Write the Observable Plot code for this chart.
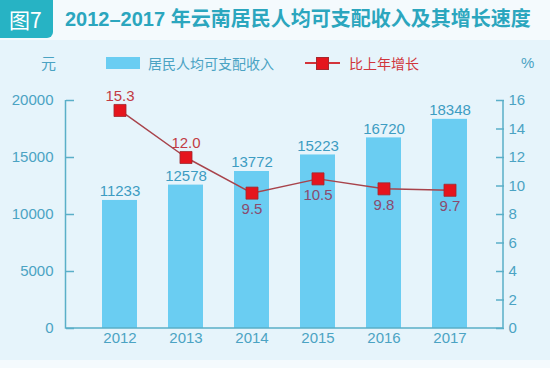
<!DOCTYPE html>
<html><head><meta charset="utf-8">
<script src="https://cdn.jsdelivr.net/npm/d3@7"></script>
<script src="https://cdn.jsdelivr.net/npm/@observablehq/plot@0.6"></script>
<style>
body{margin:0;width:550px;height:368px;background:#F4FAFD;font-family:"Liberation Sans","Noto Sans CJK SC",sans-serif;overflow:hidden;position:relative}
#header{position:relative;height:40px}
#tag{position:absolute;left:0;top:0;width:53px;height:38px;background:#27B3C4;border-bottom-right-radius:6px;color:#fff;font-size:21px;line-height:38px;text-indent:9px;font-family:"Noto Sans CJK SC","Liberation Sans",sans-serif}
#title{position:absolute;left:65px;top:0;line-height:38px;font-size:20px;font-weight:bold;color:#2BA6BE;white-space:nowrap;font-family:"Liberation Sans","Noto Sans CJK SC",sans-serif}
#panel{background:#E6F4FB;height:320px;position:relative}
#legend{position:relative;height:45px;font-family:"Noto Sans CJK SC",sans-serif}
#legend div{position:absolute;white-space:nowrap}
.unit{color:#4BA3C3;font-size:15px;line-height:20px;top:13px}
#swatch{left:106px;top:17px;width:34px;height:12px;background:#6ACDF2}
#lab1{left:148px;top:13px;line-height:20px;font-size:14px;color:#4BA3C3}
#rline{left:305px;top:22px;width:35px;height:2px;background:#D3343A}
#rsq{left:316px;top:17px;width:11px;height:11px;background:#E5151D;border:0.5px solid #A5282E}
#lab2{left:349px;top:13px;line-height:20px;font-size:14px;color:#D0363C}
</style></head>
<body>
<div id="header"><div id="tag">图7</div><div id="title">2012–2017 年云南居民人均可支配收入及其增长速度</div></div>
<div id="panel">
  <div id="legend">
    <div class="unit" style="left:41px">元</div>
    <div id="swatch"></div><div id="lab1">居民人均可支配收入</div>
    <div id="rline"></div><div id="rsq"></div><div id="lab2">比上年增长</div>
    <div class="unit" style="left:521px;font-family:'Liberation Sans'">%</div>
  </div>
  <div id="chart"></div>
</div>
<script>
const years = ["2012", "2013", "2014", "2015", "2016", "2017"];
const income = [11233, 12578, 13772, 15223, 16720, 18348];
const growth = [15.3, 12.0, 9.5, 10.5, 9.8, 9.7];
const incomeTicks = [0, 5000, 10000, 15000, 20000];
const growthTicks = [0, 2, 4, 6, 8, 10, 12, 14, 16];
const PCT = 1250; // yuan per percentage point on the shared vertical scale

const rows = years.map((year, i) => ({year, income: income[i], growth: growth[i], g: growth[i] * PCT}));
const above = rows.filter(d => d.g > d.income);
const below = rows.filter(d => d.g <= d.income);

const axisColor = "#5AAFC8";
const textColor = "#4BA3C3";

const axisLines = (index, {y}, values, dims) => {
  const g = d3.create("svg:g").attr("stroke", axisColor).attr("stroke-width", 1.5).attr("fill", "none");
  const x0 = dims.marginLeft - 0.5, x1 = dims.width - dims.marginRight;
  g.append("path").attr("d", `M${x0},${y(incomeTicks[incomeTicks.length - 1])}V${y(0)}H${x1}V${y(growthTicks[growthTicks.length - 1] * PCT)}`);
  return g.node();
};

const plot = Plot.plot({
  width: 550, height: 275,
  marginTop: 15, marginBottom: 32, marginLeft: 66, marginRight: 47,
  style: {background: "transparent", fontFamily: "Liberation Sans, Arial, sans-serif", fontSize: "15px"},
  x: {domain: years, paddingInner: 0.475, paddingOuter: 0.52, axis: null},
  y: {domain: [0, 20000], axis: null},
  marks: [
    Plot.barY(rows, {x: "year", y: "income", fill: "#6ACDF2"}),
    Plot.text(rows, {x: "year", y: "income", text: d => String(d.income), dy: -9, fill: "#3D9CC2", fontSize: 15}),
    axisLines,
    Plot.axisY(incomeTicks, {anchor: "left", tickFormat: v => String(v), tickSize: -8, tickPadding: 21, stroke: axisColor, fill: textColor, strokeWidth: 1.5, fontSize: 15, label: null}),
    Plot.axisY(growthTicks.map(v => v * PCT), {anchor: "right", tickFormat: v => String(v / PCT), tickSize: -8, tickPadding: 13, stroke: axisColor, fill: textColor, strokeWidth: 1.5, fontSize: 15, label: null}),
    Plot.axisX({tickSize: 0, tickPadding: 4, fill: textColor, fontSize: 15, label: null}),
    Plot.line(rows, {x: "year", y: "g", stroke: "#A8434B", strokeWidth: 1.5}),
    Plot.dot(rows, {x: "year", y: "g", symbol: "square", r: 6.8, fill: "#E5151D", stroke: "#9E2A30", strokeWidth: 0.8}),
    Plot.text(above, {x: "year", y: "g", text: d => d.growth.toFixed(1), dy: -14, fill: "#C23B44", fontSize: 15}),
    Plot.text(below, {x: "year", y: "g", text: d => d.growth.toFixed(1), dy: 16, fill: "#8B4B6E", fontSize: 15})
  ]
});
document.getElementById("chart").appendChild(plot);
</script>
</body></html>
